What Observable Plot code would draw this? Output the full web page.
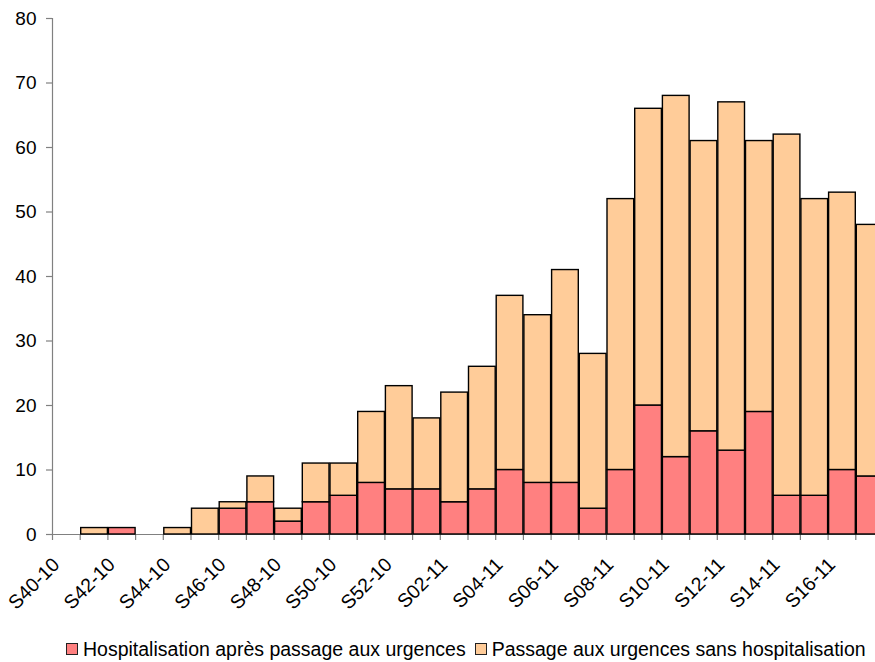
<!DOCTYPE html>
<html>
<head>
<meta charset="utf-8">
<script src="https://cdn.jsdelivr.net/npm/d3@7"></script>
<script src="https://cdn.jsdelivr.net/npm/@observablehq/plot@0.6"></script>
<style>
  html, body { margin: 0; padding: 0; background: #fff; overflow: hidden; }
  body { width: 875px; height: 662px; font-family: Arial, "Liberation Sans", sans-serif; }
  #legend { display: flex; align-items: center; height: 26px; margin-left: 66px; font-size: 19.5px; color: #000; white-space: nowrap; }
  .sw { width: 10px; height: 10px; border: 1px solid #222; margin-right: 5px; }
  .item { display: flex; align-items: center; margin-right: 9px; }
</style>
</head>
<body>
<div id="chart"></div>
<div id="legend"></div>
<script>
const weeks = ["S40-10","S41-10","S42-10","S43-10","S44-10","S45-10","S46-10","S47-10","S48-10","S49-10","S50-10","S51-10","S52-10",
  "S01-11","S02-11","S03-11","S04-11","S05-11","S06-11","S07-11","S08-11","S09-11","S10-11","S11-11","S12-11","S13-11","S14-11","S15-11","S16-11","S17-11"];
const hosp = [0,0,1,0,0,0,4,5,2,5,6,8,7,7,5,7,10,8,8,4,10,20,12,16,13,19,6,6,10,9];
const sans = [0,1,0,0,1,4,1,4,2,6,5,11,16,11,17,19,27,26,33,24,42,46,56,45,54,42,56,46,43,39];
const seriesNames = ["Hospitalisation après passage aux urgences", "Passage aux urgences sans hospitalisation"];
const seriesColors = ["#FF8080", "#FFCC99"];
const yTicks = [0,10,20,30,40,50,60,70,80];

const rows = [];
weeks.forEach((w, i) => {
  rows.push({i, week: w, series: seriesNames[0], value: hosp[i]});
  rows.push({i, week: w, series: seriesNames[1], value: sans[i]});
});
const boundaries = d3.range(0, weeks.length + 1);
const labelRows = weeks.map((w, i) => ({c: i + 0.5, w})).filter((d, i) => i % 2 === 0);

const chart = Plot.plot({
  width: 875,
  height: 636,
  marginLeft: 52,
  marginRight: 0,
  marginTop: 18,
  marginBottom: 102,
  style: {fontFamily: "Arial, 'Liberation Sans', sans-serif", fontSize: "19px", color: "black", background: "white", overflow: "hidden"},
  x: {domain: [0, weeks.length], range: [52, 883], axis: null},
  y: {domain: [0, 80], range: [534, 18], axis: null},
  color: {domain: seriesNames, range: seriesColors},
  marks: [
    Plot.ruleY([0], {stroke: "#808080", strokeWidth: 1.2}),
    Plot.ruleX([0], {y1: 0, y2: 80, stroke: "#808080", strokeWidth: 1.2}),
    Plot.axisX({ticks: boundaries, tickSize: 6, tickFormat: () => "", stroke: "#808080", strokeWidth: 1.2, label: null}),
    Plot.axisY({ticks: yTicks, tickSize: 6, tickPadding: 10, stroke: "#808080", strokeWidth: 1.2, fill: "black", fontSize: 19, label: null}),
    Plot.rectY(rows, {x: "i", interval: 1, y: "value", fill: "series", stroke: "black", strokeWidth: 1.4, filter: d => d.value > 0}),
    Plot.text(labelRows, {x: "c", y: () => 0, text: "w", rotate: -45, textAnchor: "end", lineAnchor: "middle", dx: -10, dy: 27, fontSize: 19.5, fill: "black"})
  ]
});
document.getElementById("chart").appendChild(chart);

const legend = document.getElementById("legend");
seriesNames.forEach((name, k) => {
  const item = document.createElement("div");
  item.className = "item";
  const sw = document.createElement("div");
  sw.className = "sw";
  sw.style.background = seriesColors[k];
  const t = document.createElement("span");
  t.textContent = name;
  item.appendChild(sw);
  item.appendChild(t);
  legend.appendChild(item);
});
</script>
</body>
</html>
